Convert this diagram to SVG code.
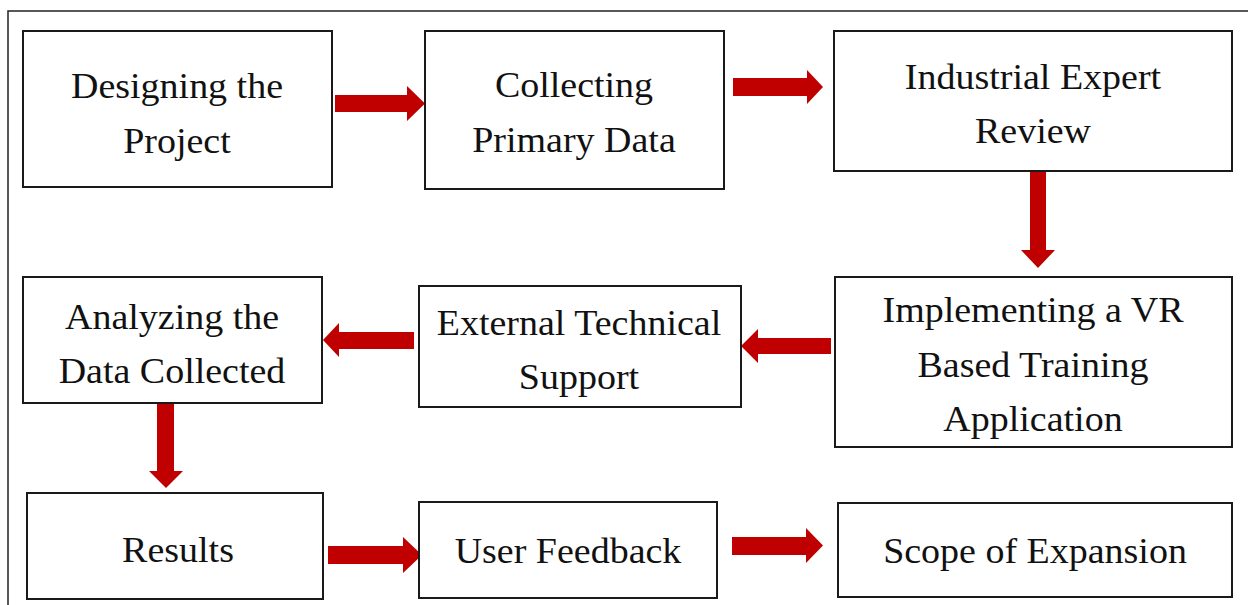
<svg xmlns="http://www.w3.org/2000/svg" width="1248" height="605" viewBox="0 0 1248 605">
  <style>
    .frame { fill: none; stroke: #222; stroke-width: 1.5; }
    .box { fill: #fff; stroke: #1a1a1a; stroke-width: 2; }
    .lbl { font-family: "Liberation Serif", "Times New Roman", serif; font-size: 36px; fill: #111; text-anchor: middle; }
    .arr { fill: #C00000; }
  </style>
  <rect x="0" y="0" width="1248" height="605" fill="#fff"/>
  <rect class="frame" x="8" y="11" width="1260" height="620"/>

  <g id="connectors">
    <polygon class="arr" points="335,95 407,95 407,86 425,103.5 407,121 407,112 335,112"/>
    <polygon class="arr" points="733,78 807,78 807,70 823,87 807,104 807,96 733,96"/>
    <polygon class="arr" points="1030,172 1046,172 1046,250 1055,250 1038,268 1021,250 1030,250"/>
    <polygon class="arr" points="831,338 758,338 758,329 741,346 758,363 758,354 831,354"/>
    <polygon class="arr" points="414,332 339,332 339,323 323,340 339,357 339,349 414,349"/>
    <polygon class="arr" points="157,404 174,404 174,471 183,471 166,488 149,471 157,471"/>
    <polygon class="arr" points="328,546 403,546 403,537 422,555 403,573 403,564 328,564"/>
    <polygon class="arr" points="732,537 806,537 806,528 823,545.5 806,563 806,555 732,555"/>
  </g>

  <g id="node-designing">
    <rect class="box" x="23" y="31" width="309" height="156"/>
    <text class="lbl" transform="translate(177,98) scale(1.055,1)">Designing the</text>
    <text class="lbl" transform="translate(177,153) scale(1.055,1)">Project</text>
  </g>
  <g id="node-collecting">
    <rect class="box" x="425" y="31" width="299" height="158"/>
    <text class="lbl" transform="translate(574,97) scale(1.055,1)">Collecting</text>
    <text class="lbl" transform="translate(574,152) scale(1.055,1)">Primary Data</text>
  </g>
  <g id="node-expert">
    <rect class="box" x="834" y="31" width="398" height="140"/>
    <text class="lbl" transform="translate(1033,89) scale(1.055,1)">Industrial Expert</text>
    <text class="lbl" transform="translate(1033,143) scale(1.055,1)">Review</text>
  </g>
  <g id="node-implementing">
    <rect class="box" x="835" y="277" width="397" height="170"/>
    <text class="lbl" transform="translate(1033,322) scale(1.055,1)">Implementing a VR</text>
    <text class="lbl" transform="translate(1033,377) scale(1.055,1)">Based Training</text>
    <text class="lbl" transform="translate(1033,431) scale(1.055,1)">Application</text>
  </g>
  <g id="node-external">
    <rect class="box" x="419" y="286" width="322" height="121"/>
    <text class="lbl" transform="translate(579,335) scale(1.055,1)">External Technical</text>
    <text class="lbl" transform="translate(579,389) scale(1.055,1)">Support</text>
  </g>
  <g id="node-analyzing">
    <rect class="box" x="23" y="277" width="299" height="126"/>
    <text class="lbl" transform="translate(172,329) scale(1.055,1)">Analyzing the</text>
    <text class="lbl" transform="translate(172,383) scale(1.055,1)">Data Collected</text>
  </g>
  <g id="node-results">
    <rect class="box" x="27" y="493" width="296" height="106"/>
    <text class="lbl" transform="translate(178,562) scale(1.055,1)">Results</text>
  </g>
  <g id="node-feedback">
    <rect class="box" x="419" y="502" width="298" height="96"/>
    <text class="lbl" transform="translate(568,563) scale(1.055,1)">User Feedback</text>
  </g>
  <g id="node-scope">
    <rect class="box" x="838" y="503" width="394" height="94"/>
    <text class="lbl" transform="translate(1035,563) scale(1.055,1)">Scope of Expansion</text>
  </g>
</svg>
